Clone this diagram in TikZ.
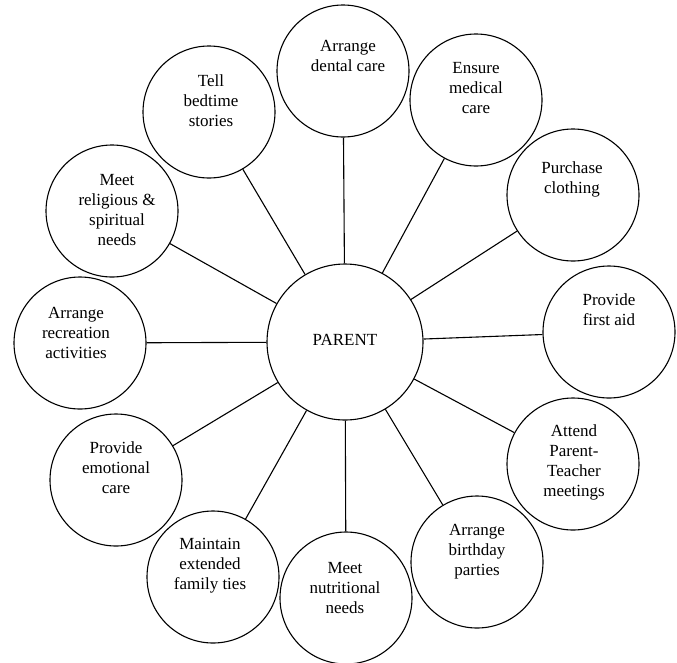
\documentclass[tikz,border=0pt]{standalone}
\usepackage{fontspec}
\setmainfont{Liberation Serif}
\begin{document}
\begin{tikzpicture}[x=1pt,y=-1pt,
    bubble/.style={draw,line width=1.1pt,circle,minimum size=132pt,inner sep=0pt},
    hub/.style={draw,line width=1.1pt,circle,minimum size=156pt,inner sep=0pt},
    txt/.style={align=center,inner sep=0pt,font=\fontsize{17}{20}\selectfont},
    link/.style={line width=1.1pt}]
      \useasboundingbox (0,0) rectangle (677,662);
      % hub
      \node[hub] (parent) at (345,342) {};
      \node[txt] (parentT) at (345,340) {PARENT};
      % outer circles
      \node[bubble] (dental) at (343,71) {};
      \node[bubble] (medical) at (476,100) {};
      \node[bubble] (clothing) at (573,195) {};
      \node[bubble] (firstaid) at (609,332) {};
      \node[bubble] (meetings) at (573,464) {};
      \node[bubble] (birthday) at (477,562) {};
      \node[bubble] (nutrition) at (346,598) {};
      \node[bubble] (family) at (213,577) {};
      \node[bubble] (emotional) at (116,480) {};
      \node[bubble] (recreation) at (80,343) {};
      \node[bubble] (religious) at (112,211) {};
      \node[bubble] (bedtime) at (209,112) {};
      % labels
      \node[txt] (dentalT) at (348,56) {Arrange\\dental care};
      \node[txt] (medicalT) at (476,88) {Ensure\\medical\\care};
      \node[txt] (clothingT) at (572,179) {Purchase\\clothing};
      \node[txt] (firstaidT) at (609,310) {Provide\\first aid};
      \node[txt] (meetingsT) at (574,462) {Attend\\Parent-\\Teacher\\meetings};
      \node[txt] (birthdayT) at (477,552) {Arrange\\birthday\\parties};
      \node[txt] (nutritionT) at (345,588) {Meet\\nutritional\\needs};
      \node[txt] (familyT) at (210,566) {Maintain\\extended\\family ties};
      \node[txt] (emotionalT) at (116,468) {Provide\\emotional\\care};
      \node[txt] (recreationT) at (76,333) {Arrange\\recreation\\activities};
      \node[txt] (religiousT) at (117,210) {Meet\\religious \&\\spiritual\\needs};
      \node[txt] (bedtimeT) at (211,101) {Tell\\bedtime\\stories};
      % spokes
      \foreach \n in {dental,medical,clothing,firstaid,meetings,birthday,
                      nutrition,family,emotional,recreation,religious,bedtime}
        \draw[link] (parent) -- (\n);
    \end{tikzpicture}
\end{document}
